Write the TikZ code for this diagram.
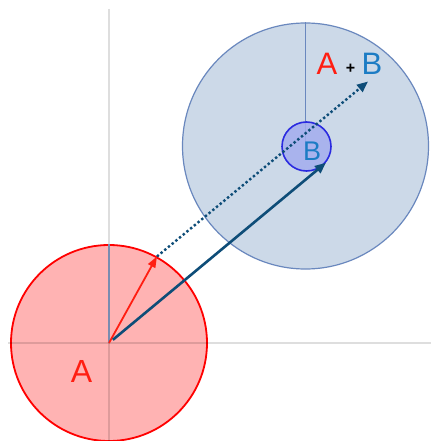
\documentclass[tikz,border=0pt]{standalone}
\usepackage{fontspec}
\setmainfont{Liberation Sans}
\usetikzlibrary{arrows.meta}
\definecolor{redA}{HTML}{FF1E12}
\definecolor{pinkfill}{HTML}{FFB3B3}
\definecolor{bigfill}{HTML}{CCD9E8}
\definecolor{bigline}{HTML}{6A88BE}
\definecolor{smallfill}{HTML}{A4ADEE}
\definecolor{smallline}{HTML}{2A2AE0}
\definecolor{textB}{HTML}{1C7CC4}
\definecolor{arrowblue}{HTML}{0E4D78}
\definecolor{slate}{HTML}{7A8CB0}
\tikzset{
  axisline/.style={draw=black, draw opacity=0.13, line width=1.2pt},
  radline/.style={draw=slate, line width=1.2pt},
  lbl/.style={inner sep=0pt, font=\fontsize{32}{36}\selectfont},
  vecarrow/.style={line width=2.6pt, draw=arrowblue, -{Triangle[length=11pt,width=9pt]}},
}
\begin{document}
\begin{tikzpicture}[x=1pt,y=-1pt]
\useasboundingbox (0,0) rectangle (431,441);
\clip (0,0) rectangle (431,441);
\fill[white] (0,0) rectangle (431,441);
% circles
\node[circle, minimum size=196pt, inner sep=0pt, draw=red, line width=1.8pt, fill=pinkfill] (A) at (109,343) {};
\node[circle, minimum size=246pt, inner sep=0pt, draw=bigline, line width=1.2pt, fill=bigfill] (S) at (305.5,146) {};
% axes
\coordinate (ytop) at (109,9);
\coordinate (ybot) at (109,441);
\coordinate (xl) at (8,343);
\coordinate (xr) at (431,343);
\draw[axisline] (ytop) -- (ybot);
\draw[axisline] (xl) -- (xr);
% radius lines
\draw[radline] (A.center) -- (A.north);
\draw[draw=bigline, line width=1.2pt] (S.center) -- (S.north);
% small circle B
\node[circle, minimum size=49pt, inner sep=0pt, draw=smallline, line width=1.6pt, fill=smallfill, fill opacity=0.85] (B) at (306.5,146.5) {};
% vectors
\coordinate (AB) at (368,81.5);
\draw[redA, line width=1.8pt, -{Triangle[length=11pt,width=8pt]}] (A.center) -- (A.61);
\draw[arrowblue, line width=2.4pt, dash pattern=on 2.4pt off 2.4pt, -{Triangle[length=11pt,width=9pt]}] (A.61) -- (AB);
\draw[vecarrow, shorten <=5pt] (A.center) -- (B.-40);
% labels
\node[lbl, text=textB, font=\fontsize{27}{30}\selectfont] (Blbl) at (312,151) {B};
\node[lbl, text=redA] (Albl) at (81.5,371.5) {A};
\node[lbl, text=redA, font=\fontsize{31}{36}\selectfont] (A2) at (327,64) {A};
\node[inner sep=0pt, font=\bfseries\fontsize{16}{18}\selectfont] (plus) at (350.5,68.5) {+};
\node[lbl, text=textB, font=\fontsize{31}{36}\selectfont] (B2) at (372,64) {B};
\end{tikzpicture}
\end{document}
